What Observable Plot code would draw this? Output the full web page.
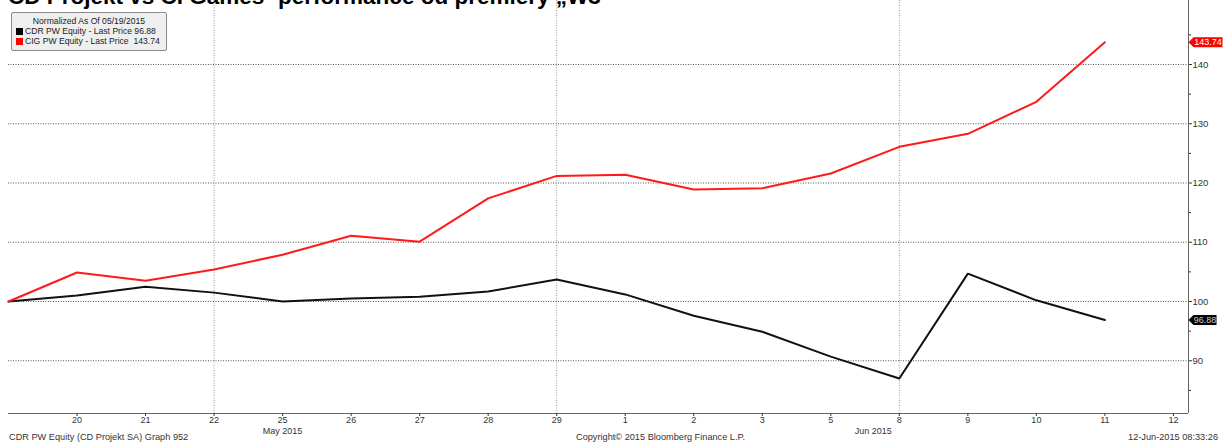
<!DOCTYPE html>
<html><head><meta charset="utf-8">
<script src="https://cdn.jsdelivr.net/npm/d3@7"></script>
<script src="https://cdn.jsdelivr.net/npm/@observablehq/plot@0.6"></script>
<style>
body{margin:0;background:#fff;overflow:hidden}
#wrap{position:relative;width:1223px;height:443px;font-family:"Liberation Sans",Arial,sans-serif}
#title{position:absolute;left:8px;top:-14px;font:bold 22.5px/22.5px "Liberation Sans",Arial,sans-serif;color:#000;white-space:nowrap;z-index:2}
#legend{position:absolute;left:11px;top:12px;width:156px;height:39px;background:#efefef;border:1px solid #8a8a8a;border-radius:2px;font-size:8.6px;line-height:10px;color:#222;box-sizing:border-box;padding-top:3px;z-index:2}
#legend .hd{text-align:center}
#legend .row{padding-left:4px;white-space:pre}
#legend .sw{display:inline-block;width:7px;height:7px;margin-right:2px;vertical-align:-1px}
.foot{position:absolute;top:432px;font-size:9.2px;color:#333;white-space:nowrap}
#chart{position:absolute;left:0;top:0}
</style></head>
<body>
<div id="wrap">
  <div id="title"></div>
  <div id="legend"></div>
  <div id="chart"></div>
  <div class="foot" id="f1" style="left:9px"></div>
  <div class="foot" id="f2" style="left:576px"></div>
  <div class="foot" id="f3" style="right:5px"></div>
</div>
<script>
// ---- data ----
const titleText = "CD Projekt vs CI Games- performance od premiery \u201EW3";
const days = ["19","20","21","22","25","26","27","28","29","1","2","3","5","8","9","10","11","12"];
const cdrValues = [100, 101.0, 102.5, 101.5, 100.0, 100.5, 100.8, 101.7, 103.7, 101.2, 97.6, 94.9, 90.7, 87.0, 104.7, 100.2, 96.88];
const cigValues = [100, 104.9, 103.5, 105.4, 107.9, 111.1, 110.1, 117.4, 121.2, 121.4, 118.9, 119.1, 121.6, 126.1, 128.3, 133.7, 143.74];
const yTicks = [90, 100, 110, 120, 130, 140];
const yMinor = [85, 95, 105, 115, 125, 135, 145];
const weekGrid = ["22", "29", "8"];
const monthLabels = ["May 2015", "Jun 2015"];
const monthPos = [4, 12.62];
const legendHeader = "Normalized As Of 05/19/2015";
const seriesNames = ["CDR PW Equity - Last Price", "CIG PW Equity - Last Price "];
const seriesColors = ["#000000", "#ff0000"];
const footLeft = "CDR PW Equity (CD Projekt SA) Graph 952";
const footMid = "Copyright\u00A9 2015 Bloomberg Finance L.P.";
const footRight = "12-Jun-2015 08:33:26";

const xMax = 17.22;
const yDomain = [81.1, 150.8];

const cdr = cdrValues.map((v, i) => ({i, v}));
const cig = cigValues.map((v, i) => ({i, v}));
const lastCdr = cdr[cdr.length - 1];
const lastCig = cig[cig.length - 1];

document.getElementById("title").textContent = titleText;
document.getElementById("f1").textContent = footLeft;
document.getElementById("f2").textContent = footMid;
document.getElementById("f3").textContent = footRight;

const lg = document.getElementById("legend");
lg.innerHTML = `<div class="hd">${legendHeader}</div>` +
  [cdrValues, cigValues].map((vals, k) =>
    `<div class="row"><span class="sw" style="background:${seriesColors[k]}"></span>${seriesNames[k]} ${vals[vals.length-1].toFixed(2)}</div>`).join("");

function tag(w) {
  return {draw(ctx) {
    ctx.moveTo(0, 0); ctx.lineTo(5, -5); ctx.lineTo(w, -5); ctx.lineTo(w, 5); ctx.lineTo(5, 5); ctx.closePath();
  }};
}

const chart = Plot.plot({
  width: 1223, height: 443,
  marginLeft: 8, marginRight: 35, marginTop: 0, marginBottom: 30,
  style: {fontFamily: "'Liberation Sans', Arial, sans-serif", fontSize: "9px", background: "#fff"},
  x: {type: "linear", domain: [0, xMax]},
  y: {domain: yDomain},
  marks: [
    Plot.ruleY(yTicks, {stroke: "#555", strokeDasharray: "1,1.5", strokeWidth: 1}),
    Plot.ruleX(weekGrid.map(d => days.indexOf(d)), {stroke: "#999", strokeDasharray: "1,1.5", strokeWidth: 1}),
    Plot.ruleY([yDomain[0]], {stroke: "#666", strokeWidth: 1}),
    Plot.ruleX([xMax], {stroke: "#666", strokeWidth: 1}),
    Plot.axisX({ticks: d3.range(1, days.length), tickFormat: i => days[i], tickSize: 3, tickPadding: 0, label: null, color: "#333", fontSize: 9}),
    Plot.axisY({anchor: "right", ticks: yTicks, tickSize: 3, tickPadding: 1, label: null, color: "#333", fontSize: 9.5}),
    Plot.axisY({anchor: "right", ticks: yMinor, tickSize: 2, tickFormat: () => "", label: null, color: "#333"}),
    Plot.text(monthLabels, {x: (d, i) => monthPos[i], frameAnchor: "bottom", dy: 20, text: d => d, fill: "#333", fontSize: 9}),
    Plot.line(cdr, {x: "i", y: "v", stroke: "#111", strokeWidth: 2}),
    Plot.line(cig, {x: "i", y: "v", stroke: "#ff1a1a", strokeWidth: 2}),
    Plot.dot([lastCig], {x: () => xMax, y: "v", symbol: tag(34), r: 5, fill: "#ff0000", stroke: "none"}),
    Plot.text([lastCig], {x: () => xMax, y: "v", text: d => d.v.toFixed(2), dx: 19.5, fill: "#fff", fontSize: 9}),
    Plot.dot([lastCdr], {x: () => xMax, y: "v", symbol: tag(28), r: 5, fill: "#000", stroke: "none"}),
    Plot.text([lastCdr], {x: () => xMax, y: "v", text: d => d.v.toFixed(2), dx: 16.5, fill: "#ccc", fontSize: 9})
  ]
});
document.getElementById("chart").appendChild(chart);
</script>
</body></html>
